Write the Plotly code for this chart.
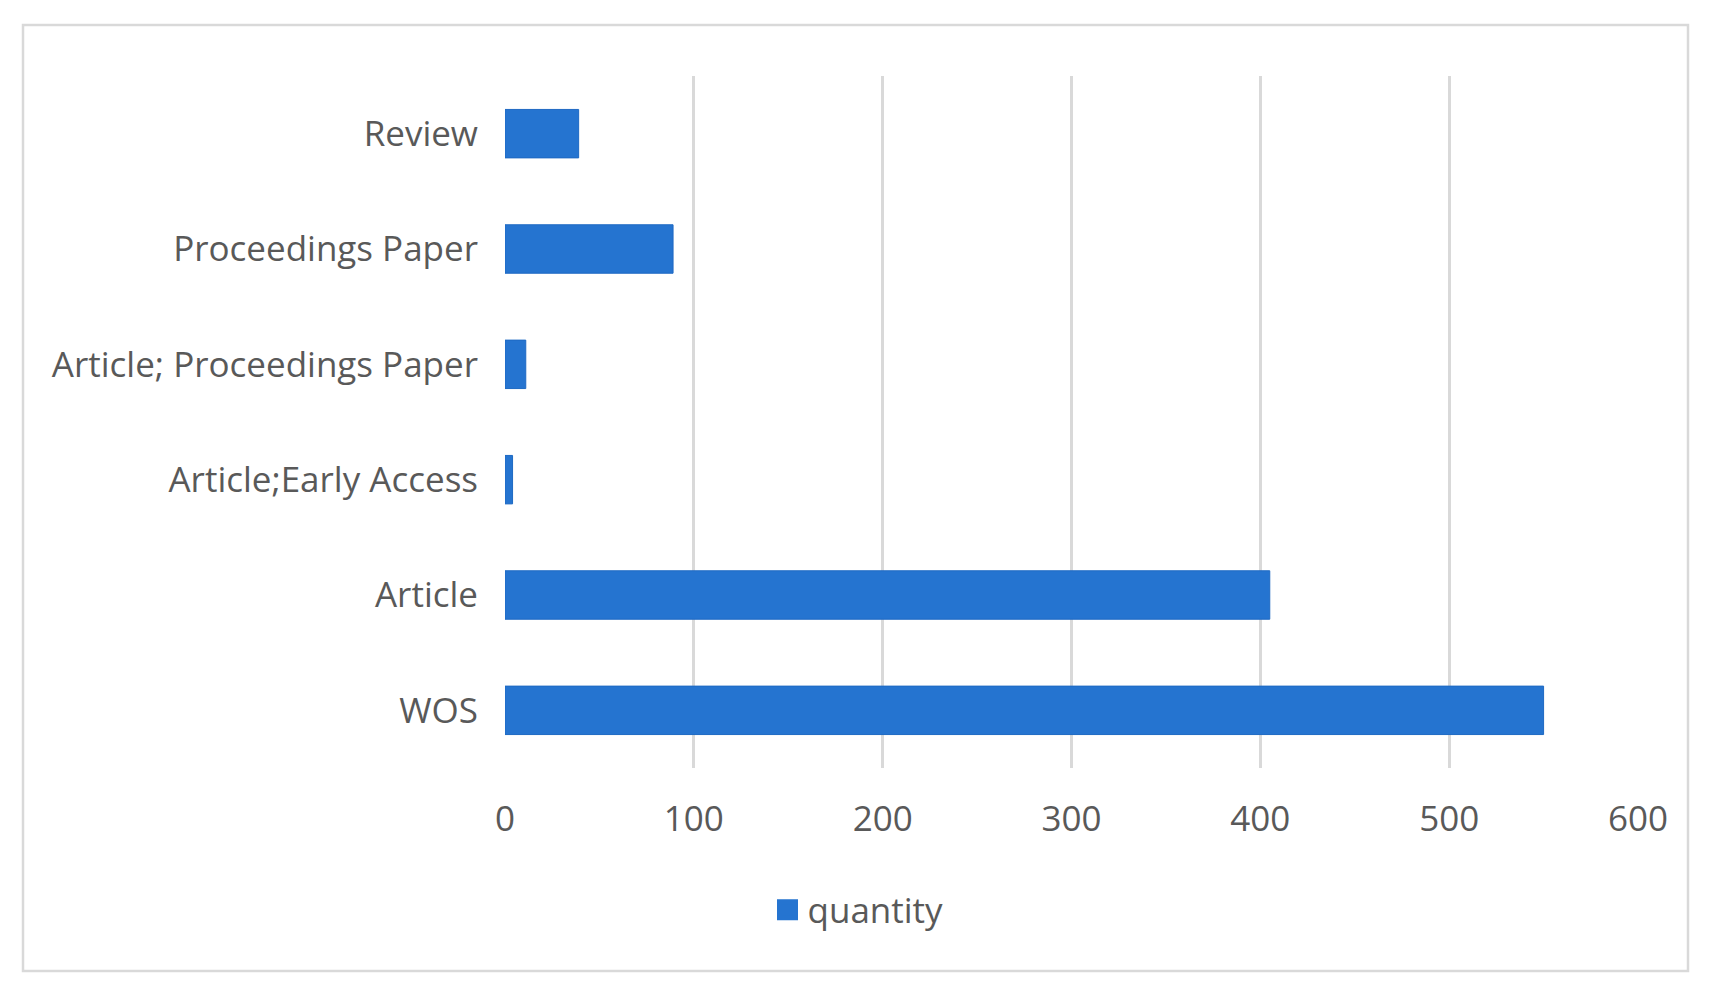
import plotly.graph_objects as go

categories = ['WOS', 'Article', 'Article;Early Access', 'Article; Proceedings Paper',
              'Proceedings Paper', 'Review']
quantity = [550, 405, 4, 11, 89, 39]
x_ticks = [0, 100, 200, 300, 400, 500, 600]

# page has an 8px body margin, so work in figure pixels = page pixels - 8
OFF = 8
W, H = 1713 - 2 * OFF, 1008 - 2 * OFF
L, T = 505 - OFF, 76 - OFF
R = W - (1638 - OFF)
B = H - (768 - OFF)
pw, ph = W - L - R, H - T - B

def px_x(p):
    return (p - OFF - L) / pw

def px_y(p):
    return 1 - (p - OFF - T) / ph

fig = go.Figure(go.Bar(
    y=categories, x=quantity, orientation='h', name='quantity',
    marker=dict(color='#2574d0', line=dict(color='#1e69c3', width=1)),
    showlegend=False,
))
# legend proxy with a bigger square swatch
fig.add_trace(go.Scatter(
    x=[None], y=[None], mode='markers', name='quantity',
    marker=dict(symbol='square', size=16, color='#2574d0',
                line=dict(color='#2574d0', width=5)),
))

fig.update_layout(
    width=W, height=H,
    margin=dict(l=L, r=R, t=T, b=B),
    paper_bgcolor='white', plot_bgcolor='white',
    font=dict(family='Open Sans', size=35, color='#595959'),
    bargap=0.58,
    showlegend=True,
    legend=dict(orientation='h', xref='container', yref='container',
                x=(858 - OFF) / W, xanchor='center',
                y=1 - (910 - OFF) / H, yanchor='middle',
                font=dict(size=35, color='#595959')),
    shapes=[dict(type='rect', xref='paper', yref='paper',
                 x0=px_x(23), x1=px_x(1688), y0=px_y(971), y1=px_y(25),
                 line=dict(color='#d9d9d9', width=2.5), layer='below')],
)
fig.update_xaxes(range=[0, 600], tickvals=x_ticks, showgrid=True,
                 gridcolor='#d9d9d9', gridwidth=2.5, zeroline=False,
                 showline=False, ticks='', ticklabelstandoff=27)
fig.update_yaxes(showgrid=False, zeroline=False, showline=False, ticks='',
                 ticklabelstandoff=26)

fig.write_html('out.html')
